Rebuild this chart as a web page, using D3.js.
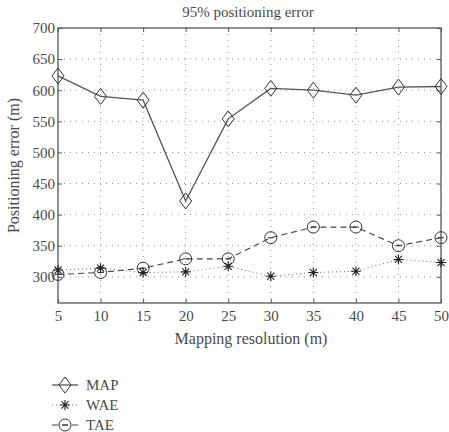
<!DOCTYPE html>
<html><head><meta charset="utf-8">
<script src="https://cdn.jsdelivr.net/npm/d3@7"></script>
<style>body{margin:0;background:#fff}svg text{font-family:'Liberation Serif',serif;fill:#4a4a4a}</style>
</head><body><svg id="c" width="449" height="432"></svg>
<script>
const resolutions = [5,10,15,20,25,30,35,40,45,50];
const mapErr = [623,590,584,422,554,603,600,592,605,606];
const waeErr = [311,314,307,308,317,301,307,309,328,323];
const taeErr = [304,307,314,329,329,363,380,380,350,363];
const yTicks = [300,350,400,450,500,550,600,650,700];
const xTicks = [5,10,15,20,25,30,35,40,45,50];
const seriesNames = ["MAP","WAE","TAE"];

const FONT="'Liberation Serif', serif";
const svg = d3.select("#c");
const L=58,R=441,T=28,B=303;
const x = d3.scaleLinear().domain([5,50]).range([L,R]);
const y = d3.scaleLinear().domain([258,700]).range([B,T]);

// grid
const g = svg.append("g");
g.selectAll(".gx").data(xTicks.slice(1,-1)).enter().append("line")
 .attr("x1",d=>x(d)).attr("x2",d=>x(d)).attr("y1",T).attr("y2",B)
 .attr("stroke","#777").attr("stroke-width",0.8).attr("stroke-dasharray","1,5");
g.selectAll(".gy").data(yTicks.slice(0,-1)).enter().append("line")
 .attr("y1",d=>y(d)).attr("y2",d=>y(d)).attr("x1",L).attr("x2",R)
 .attr("stroke","#777").attr("stroke-width",0.8).attr("stroke-dasharray","1,5");

// axes
const xa = d3.axisBottom(x).tickValues(xTicks).tickSize(-4).tickPadding(7);
const ya = d3.axisLeft(y).tickValues(yTicks).tickSize(-4).tickPadding(3);
const gx = svg.append("g").attr("transform",`translate(0,${B})`).call(xa);
const gy = svg.append("g").attr("transform",`translate(${L},0)`).call(ya);
svg.append("g").attr("transform",`translate(0,${T})`).call(d3.axisTop(x).tickValues(xTicks).tickSize(-4).tickFormat(""));
svg.append("g").attr("transform",`translate(${R},0)`).call(d3.axisRight(y).tickValues(yTicks).tickSize(-4).tickFormat(""));
svg.selectAll(".tick line").attr("stroke","#555");
[gx,gy].forEach(a=>{a.attr("font-family",FONT).attr("font-size",15);a.selectAll("text").style("font-family",FONT).style("font-size","15px").attr("fill","#4a4a4a");});
svg.selectAll("path.domain").remove();
svg.append("rect").attr("x",L).attr("y",T).attr("width",R-L).attr("height",B-T)
 .attr("fill","none").attr("stroke","#555").attr("stroke-width",1.3);

// titles
svg.append("text").attr("x",248).attr("y",17).attr("text-anchor","middle").style("font-family",FONT).style("font-size","15px").text("95% positioning error");
svg.append("text").attr("x",251).attr("y",344).attr("text-anchor","middle").style("font-family",FONT).style("font-size","16px").text("Mapping resolution (m)");
svg.append("text").attr("transform",`translate(19,${(T+B)/2}) rotate(-90)`).attr("text-anchor","middle").style("font-family",FONT).style("font-size","16px").text("Positioning error (m)");

const line = d3.line().x((d,i)=>x(resolutions[i])).y(d=>y(d));
function diamond(sel,cx,cy){sel.append("path").attr("d",`M${cx},${cy-8}L${cx+6},${cy}L${cx},${cy+8}L${cx-6},${cy}Z`).attr("fill","none").attr("stroke","#333").attr("stroke-width",1);}
function star(sel,cx,cy){const r=5;const p=[];for(let k=0;k<4;k++){const a=k*Math.PI/4;p.push(`M${cx-r*Math.cos(a)},${cy-r*Math.sin(a)}L${cx+r*Math.cos(a)},${cy+r*Math.sin(a)}`);}sel.append("path").attr("d",p.join("")).attr("stroke","#222").attr("stroke-width",1.1);}
function circ(sel,cx,cy){sel.append("circle").attr("cx",cx).attr("cy",cy).attr("r",6).attr("fill","none").attr("stroke","#333").attr("stroke-width",1);sel.append("line").attr("x1",cx-3).attr("x2",cx+3).attr("y1",cy).attr("y2",cy).attr("stroke","#333");}

const series=[
 {v:mapErr,dash:null,w:1.3,col:"#555",m:diamond},
 {v:waeErr,dash:"1,3",w:1,col:"#666",m:star},
 {v:taeErr,dash:"6,4",w:1.1,col:"#444",m:circ}];
series.forEach(s=>{
 svg.append("path").datum(s.v).attr("d",line).attr("fill","none").attr("stroke",s.col).attr("stroke-width",s.w).attr("stroke-dasharray",s.dash);
 const mg=svg.append("g");
 s.v.forEach((d,i)=>s.m(mg,x(resolutions[i]),y(d)));
});

// legend
const ly=[385,405,425];
series.forEach((s,i)=>{
 svg.append("line").attr("x1",52).attr("x2",78).attr("y1",ly[i]).attr("y2",ly[i]).attr("stroke",s.col).attr("stroke-width",s.w).attr("stroke-dasharray",s.dash);
 const mg=svg.append("g"); s.m(mg,65,ly[i]);
 svg.append("text").attr("x",86).attr("y",ly[i]+5).style("font-family",FONT).style("font-size","15px").text(seriesNames[i]);
});
</script></body></html>
